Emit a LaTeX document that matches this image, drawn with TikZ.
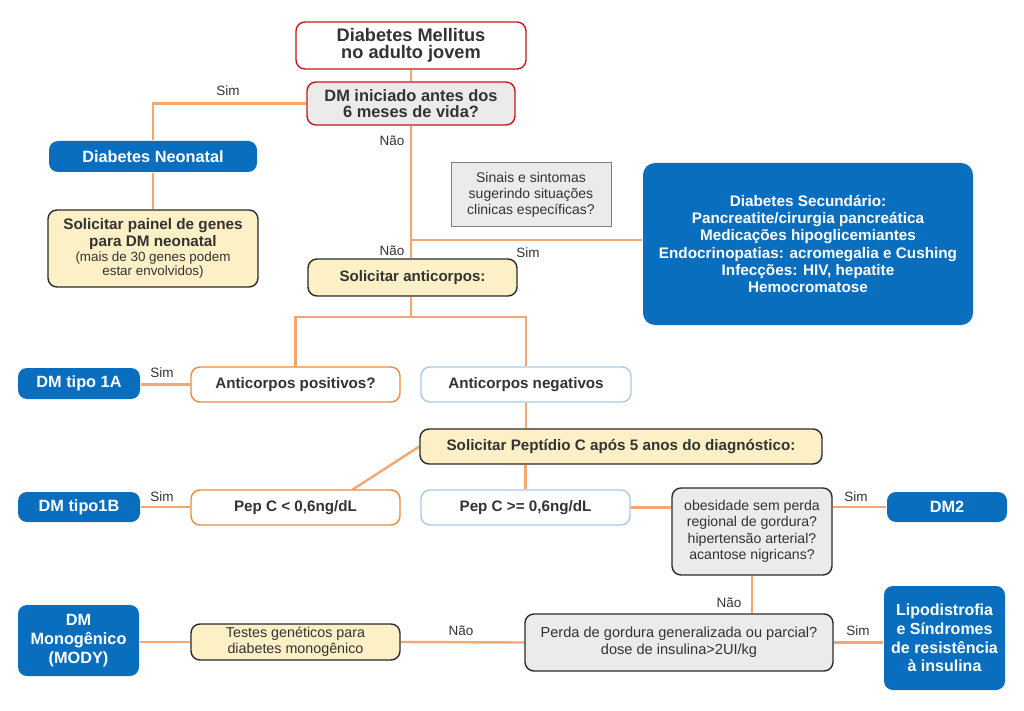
\documentclass[tikz,border=0pt]{standalone}
\usepackage{fontspec}
\setmainfont{Liberation Sans}
\usetikzlibrary{backgrounds}
\definecolor{dmblue}{HTML}{0A6EBF}
\definecolor{lineor}{HTML}{F7A670}
\definecolor{redb}{HTML}{C8161D}
\definecolor{cream}{HTML}{FDF0C6}
\definecolor{grayf}{HTML}{EBEBEB}
\definecolor{orb}{HTML}{EE8A3A}
\definecolor{lblue}{HTML}{A9C8EA}
\definecolor{txt}{HTML}{333333}
\definecolor{darkb}{HTML}{2B2B2B}
\newcommand{\smalltx}{\fontsize{13.4}{14.5}\selectfont\mdseries}
\tikzset{
  box/.style={rectangle, rounded corners=9pt, inner sep=0pt, align=center, text=txt, line width=1.4pt},
  bluebox/.style={box, fill=dmblue, text=white, font=\fontsize{16.3}{17.5}\selectfont\bfseries},
  redbox/.style={box, draw=redb, fill=white},
  qbox/.style={box, draw=redb, fill=grayf},
  creambox/.style={box, draw=darkb, fill=cream},
  graybox/.style={box, draw=darkb, fill=grayf},
  orbox/.style={box, draw=orb, fill=white, font=\fontsize{15.2}{17}\selectfont\bfseries},
  lbbox/.style={box, draw=lblue, fill=white, font=\fontsize{15.2}{17}\selectfont\bfseries},
  conn/.style={draw=lineor, line width=2.4pt},
  lbl/.style={font=\fontsize{13.5}{15}\selectfont, text=txt, inner sep=0pt}
}
\begin{document}
\begin{tikzpicture}[x=1pt,y=-1pt]
\useasboundingbox (0,0) rectangle (1024,711);
% nodes
\node[redbox, minimum width=230pt, minimum height=47pt, font=\fontsize{18.2}{17}\selectfont\bfseries] (top) at (411,45.5) {Diabetes Mellitus\\no adulto jovem};
\node[qbox, minimum width=208pt, minimum height=43pt, font=\fontsize{16.4}{16.5}\selectfont\bfseries] (q1) at (411,103.5) {DM iniciado antes dos\\6 meses de vida?};
\node[bluebox, minimum width=208pt, minimum height=31pt] (neo) at (153,156.5) {Diabetes Neonatal};
\node[creambox, minimum width=210pt, minimum height=77pt, font=\fontsize{15.3}{16.8}\selectfont\bfseries] (painel) at (153,248.5) {Solicitar painel de genes\\para DM neonatal\\[-1.5pt]{\smalltx (mais de 30 genes podem}\\[-2.5pt]{\smalltx estar envolvidos)}};
\node[box, rounded corners=0pt, draw=gray, fill=grayf, line width=1pt, minimum width=160pt, minimum height=64pt, font=\fontsize{14}{16.2}\selectfont] (sinais) at (531,195) {Sinais e sintomas\\sugerindo situações\\clinicas específicas?};
\node[bluebox, rounded corners=12pt, minimum width=330pt, minimum height=162pt, font=\fontsize{15.3}{17.2}\selectfont\bfseries] (sec) at (808,244) {Diabetes Secundário:\\Pancreatite/cirurgia pancreática\\Medicações hipoglicemiantes\\Endocrinopatias: acromegalia e Cushing\\Infecções: HIV, hepatite\\Hemocromatose};
\node[creambox, minimum width=209pt, minimum height=37pt, font=\fontsize{15.1}{17}\selectfont\bfseries] (anti) at (412.5,277.5) {Solicitar anticorpos:};
\node[orbox, minimum width=209pt, minimum height=35pt] (pos) at (295.5,384.5) {Anticorpos positivos?};
\node[lbbox, minimum width=210pt, minimum height=35pt] (neg) at (526,384.5) {Anticorpos negativos};
\node[bluebox, minimum width=122pt, minimum height=31pt] (t1a) at (79,383.5) {DM tipo 1A};
\node[creambox, minimum width=402pt, minimum height=35pt, font=\fontsize{15.2}{17}\selectfont\bfseries] (pep) at (621,446.5) {Solicitar Peptídio C após 5 anos do diagnóstico:};
\node[orbox, minimum width=209pt, minimum height=35pt] (pepl) at (295.5,507.5) {Pep C < 0,6ng/dL};
\node[lbbox, minimum width=209pt, minimum height=35pt] (peph) at (525.5,507.5) {Pep C >= 0,6ng/dL};
\node[bluebox, minimum width=122pt, minimum height=30pt] (t1b) at (79,507) {DM tipo1B};
\node[graybox, minimum width=160pt, minimum height=87pt, font=\fontsize{14.1}{16.5}\selectfont] (obes) at (752,531.5) {obesidade sem perda\\regional de gordura?\\hipertensão arterial?\\acantose nigricans?};
\node[bluebox, minimum width=120pt, minimum height=30pt] (dm2) at (947,507) {DM2};
\node[graybox, minimum width=308pt, minimum height=57pt, font=\fontsize{14.6}{16.8}\selectfont] (perda) at (679,642.5) {Perda de gordura generalizada ou parcial?\\dose de insulina>2UI/kg};
\node[bluebox, minimum width=121pt, minimum height=104pt, font=\fontsize{16}{18.6}\selectfont\bfseries] (lipo) at (944.5,638) {Lipodistrofia\\e Síndromes\\de resistência\\à insulina};
\node[creambox, minimum width=209pt, minimum height=36pt, font=\fontsize{14.3}{15.9}\selectfont] (testes) at (295.5,642) {Testes genéticos para\\diabetes monogênico};
\node[bluebox, minimum width=121pt, minimum height=71pt, font=\fontsize{16.3}{18.6}\selectfont\bfseries] (mody) at (78.5,640.5) {DM\\Monogênico\\(MODY)};
% coordinates
\coordinate (br) at (411,240);
\coordinate (sp) at (411,317);
\coordinate (dg) at (352,490);
% labels
\node[lbl] (l1) at (228,91) {Sim};
\node[lbl] (l2) at (392,141) {Não};
\node[lbl] (l3) at (392,251) {Não};
\node[lbl] (l4) at (528,253) {Sim};
\node[lbl] (l5) at (162,373) {Sim};
\node[lbl] (l6) at (162,497) {Sim};
\node[lbl] (l7) at (856,497) {Sim};
\node[lbl] (l8) at (729,603) {Não};
\node[lbl] (l9) at (858,631) {Sim};
\node[lbl] (l10) at (461,631) {Não};
% connectors
\begin{scope}[on background layer]
\fill[white] (0,0) rectangle (1024,711);
\draw[conn] (top.south) -- (q1.north);
\draw[conn] (q1.west) -| (neo.north);
\draw[conn] (neo.south) -- (painel.north);
\draw[conn] (q1.south) -- (q1.south |- anti.north);
\draw[conn] (br) -- (br -| sec.west);
\draw[conn] (sp |- anti.south) -- (sp);
\draw[conn] (pos.north) |- (sp) -| (neg.north);
\draw[conn] (pos.west -| t1a.east) -- (pos.west);
\draw[conn] (neg.south) -- (neg.south |- pep.north);
\draw[conn] (pep.west) -- (dg);
\draw[conn] (peph.north |- pep.south) -- (peph.north);
\draw[conn] (t1b.east) -- (t1b.east -| pepl.west);
\draw[conn] (peph.east) -- (peph.east -| obes.west);
\draw[conn] (dm2.west -| obes.east) -- (dm2.west);
\draw[conn] (obes.south) -- (obes.south |- perda.north);
\draw[conn] (perda.east) -- (perda.east -| lipo.west);
\draw[conn] (perda.west) -- (testes.east);
\draw[conn] (testes.west -| mody.east) -- (testes.west);
\end{scope}
\end{tikzpicture}
\end{document}
